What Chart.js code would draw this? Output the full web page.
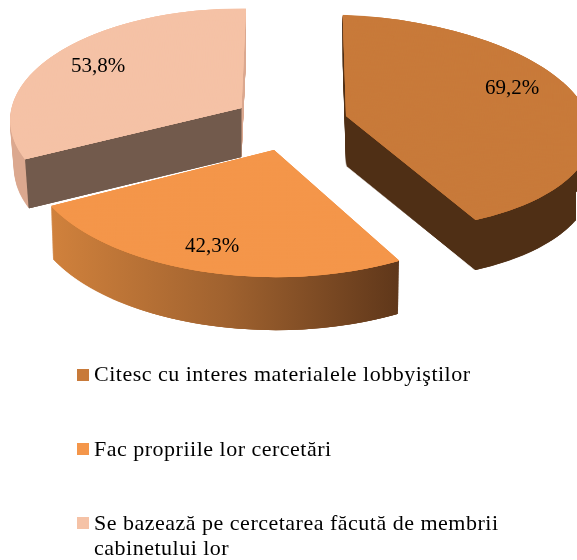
<!DOCTYPE html>
<html lang="ro">
<head>
<meta charset="utf-8">
<script src="https://cdn.jsdelivr.net/npm/chart.js@4"></script>
<style>
html,body{margin:0;padding:0;background:#fff;width:577px;height:560px;overflow:hidden}
#wrap{position:relative;width:577px;height:560px}
canvas{position:absolute;left:0;top:0}
.sw{position:absolute;left:77px;width:12px;height:12px}
.lb{position:absolute;left:94px;font-family:"Liberation Serif",serif;font-size:22px;letter-spacing:.5px;line-height:25px;color:#000;white-space:nowrap}
</style>
</head>
<body>
<div id="wrap"><canvas id="c" width="577" height="560"></canvas></div>
<script>
const categories = ["Citesc cu interes materialele lobbyiştilor","Fac propriile lor cercetări","Se bazează pe cercetarea făcută de membrii|cabinetului lor"];
const values = [69.2, 42.3, 53.8];
const valueLabels = ["69,2%","42,3%","53,8%"];
const colors = ["#c87a3a","#f4964a","#f5c2a6"];

// Page placement of each slice: apex, first and last rim corner, perspective, extrusion.
const views = [
  {a:[346,116], s:[342.7,14.7], e:[475.7,220], g:-0.06, depth:50, shift:.7, k:.008, label:[512,94],
   side:(c)=>{c.fillStyle="#4f2f15";c.fillRect(0,0,577,560);}},
  {a:[274,150], s:[399.3,260.7], e:[51,206], g:-0.04, depth:53, shift:0, k:.009, label:[212,252],
   side:(c)=>{const g=c.createLinearGradient(52,0,400,0);g.addColorStop(0,"#d0813c");g.addColorStop(.5,"#a0622f");g.addColorStop(1,"#5f371a");c.fillStyle=g;c.fillRect(0,0,577,560);}},
  {a:[241.5,108], s:[25,159.3], e:[246,8.3], g:-0.1, depth:49, shift:0, k:.0185, label:[98,71.5],
   side:(c,v)=>{c.fillStyle="#dba88f";c.fillRect(0,0,577,560);
     c.globalCompositeOperation="source-atop";c.fillStyle="#725a4c";c.beginPath();
     c.moveTo(v.s[0],v.s[1]);c.lineTo(v.a[0],v.a[1]);c.lineTo(v.a[0],v.a[1]+v.depth+6);
     c.lineTo(v.s[0]+(v.a[0]-v.s[0])*v.k,v.s[1]+v.depth+6);c.closePath();c.fill();}}
];
const order = [0,2,1];
const STRIP = 0.01;

function solveAxes(v, el){
  const su=Math.cos(el.startAngle), sw=Math.sin(el.startAngle), eu=Math.cos(el.endAngle), ew=Math.sin(el.endAngle);
  const sd=1+v.g*sw, ed=1+v.g*ew;
  const bx=(v.s[0]-v.a[0])*sd, by=(v.s[1]-v.a[1])*sd, cx=(v.e[0]-v.a[0])*ed, cy=(v.e[1]-v.a[1])*ed;
  const det=su*ew-eu*sw;
  return {ex:[(bx*ew-cx*sw)/det,(by*ew-cy*sw)/det], ey:[(su*cx-eu*bx)/det,(su*cy-eu*by)/det]};
}
function layer(){const n=document.createElement("canvas");n.width=577;n.height=560;return n;}

const tilted = {
  id:"tilted",
  beforeDatasetDraw(chart){
    const ctx = chart.ctx, arcs = chart.getDatasetMeta(0).data;
    order.forEach(i=>{
      const el=arcs[i], v=views[i], r=el.outerRadius, ax=solveAxes(v,el);
      const top=layer(), tc=top.getContext("2d");
      for(let w0=-1;w0<1;w0+=STRIP){
        const wc=w0+STRIP/2, D=1+v.g*wc, Tx=ax.ey[0]/(D*D), Ty=ax.ey[1]/(D*D);
        tc.save();
        tc.setTransform(ax.ex[0]/D/r, ax.ex[1]/D/r, Tx/r, Ty/r,
          v.a[0]+wc*ax.ey[0]/D-wc*Tx, v.a[1]+wc*ax.ey[1]/D-wc*Ty);
        tc.translate(-el.x,-el.y);
        tc.beginPath();
        tc.rect(el.x-r-4, el.y+w0*r, 2*r+8, STRIP*r*3);
        tc.clip();
        el.draw(tc);
        tc.restore();
      }
      const side=layer(), sc=side.getContext("2d");
      for(let d=v.depth;d>=1;d--){
        const t=d/v.depth;
        sc.setTransform(1-v.k*t,0,0,1,v.a[0]*v.k*t+v.shift*t,d);
        sc.drawImage(top,0,0);
      }
      sc.setTransform(1,0,0,1,0,0);
      sc.globalCompositeOperation="source-in";
      v.side(sc,v);
      ctx.drawImage(side,0,0);
      ctx.drawImage(top,0,0);
    });
    return false;
  },
  afterDraw(chart){
    const ctx = chart.ctx;
    ctx.save();
    ctx.fillStyle="#000";
    ctx.font='21px "Liberation Serif", serif';
    ctx.textAlign="center";
    ctx.textBaseline="alphabetic";
    views.forEach((v,i)=>ctx.fillText(valueLabels[i],v.label[0],v.label[1]));
    ctx.restore();
  }
};

new Chart(document.getElementById("c"),{
  type:"pie",
  data:{labels:categories.map(s=>s.replace("|"," ")),datasets:[{data:values,backgroundColor:colors,borderWidth:0}]},
  options:{responsive:false,animation:false,events:[],layout:{padding:0},
    plugins:{legend:{display:false},tooltip:{enabled:false}}},
  plugins:[tilted]
});

const rowTops = [369,443,517], textTops = [361,436,510];
const wrap = document.getElementById("wrap");
categories.forEach((t,i)=>{
  const s=document.createElement("div");s.className="sw";s.style.top=rowTops[i]+"px";s.style.background=colors[i];wrap.appendChild(s);
  const l=document.createElement("div");l.className="lb";l.style.top=textTops[i]+"px";l.innerHTML=t.replace("|","<br>");wrap.appendChild(l);
});
</script>
</body>
</html>
